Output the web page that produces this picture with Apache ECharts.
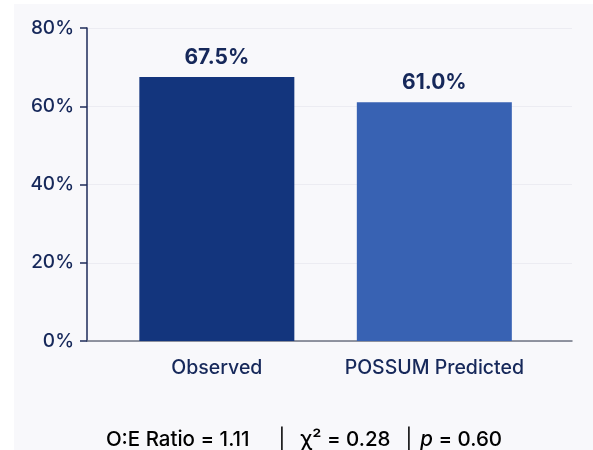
<!DOCTYPE html>
<html>
<head>
<meta charset="utf-8">
<style>
  html, body { margin: 0; padding: 0; background: #ffffff; }
  #chart { width: 593px; height: 450px; }
</style>
<script src="https://cdn.jsdelivr.net/npm/echarts@6/dist/echarts.min.js"></script>
</head>
<body>
<div id="chart"></div>
<script>
// Observed vs POSSUM-predicted rate
const categories = ['Observed', 'POSSUM Predicted'];
const rates = [67.5, 61.0];
const slots = [1, 2];
const barColors = ['#13357d', '#3862b3'];
const yMax = 80;
const yStep = 20;
const oeRatio = '1.11';
const chiSquare = '0.28';
const pValue = '0.60';

const navy = '#16285a';
const font = 'Inter, "Noto Sans", sans-serif';

const chart = echarts.init(document.getElementById('chart'), null, { renderer: 'canvas' });

chart.setOption({
  backgroundColor: '#ffffff',
  animation: false,
  textStyle: { fontFamily: font },
  graphic: [
    {
      type: 'rect',
      z: -10,
      shape: { x: 14, y: 4, width: 579, height: 446 },
      style: { fill: '#f8f8fb' },
      silent: true
    },
    {
      type: 'text',
      x: 304,
      y: 440,
      style: {
        text: '{t|O:E Ratio = ' + oeRatio + '}{s1||}{t|χ² = ' + chiSquare + '}{s2||}{i|p}{t| = ' + pValue + '}',
        align: 'center',
        verticalAlign: 'middle',
        rich: {
          t: { fontSize: 20.5, fontWeight: 500, fontFamily: font, color: navy },
          i: { fontSize: 20.5, fontWeight: 500, fontFamily: font, fontStyle: 'italic', color: navy },
          s1: { fontSize: 20.5, fontFamily: font, color: '#4a5578', padding: [0, 15, 0, 29] },
          s2: { fontSize: 20.5, fontFamily: font, color: '#4a5578', padding: [0, 8, 0, 15] }
        }
      }
    }
  ],
  grid: { left: 87, right: 21, top: 28, bottom: 109 },
  xAxis: {
    type: 'value',
    min: 0.403,
    max: 2.633,
    axisLine: { show: true, lineStyle: { color: '#6e7383', width: 1.5 } },
    axisTick: { show: false },
    splitLine: { show: false },
    axisLabel: {
      customValues: slots,
      formatter: v => categories[slots.indexOf(v)] || '',
      margin: 17,
      fontSize: 19.5,
      fontWeight: 500,
      color: navy,
      fontFamily: font
    }
  },
  yAxis: {
    type: 'value',
    min: 0,
    max: yMax,
    interval: yStep,
    axisLine: { show: true, lineStyle: { color: '#1e2b5a', width: 1.5 } },
    axisTick: { show: true, length: 7, lineStyle: { color: '#1e2b5a', width: 1.5 } },
    splitLine: { show: true, lineStyle: { color: '#ececf2', width: 1 } },
    axisLabel: {
      formatter: '{value}%',
      margin: 13,
      fontSize: 19,
      fontWeight: 500,
      color: navy,
      fontFamily: font
    }
  },
  series: [
    {
      type: 'bar',
      barWidth: 155,
      data: categories.map((c, i) => ({
        name: c,
        value: [slots[i], rates[i]],
        itemStyle: { color: barColors[i] }
      })),
      label: {
        show: true,
        position: 'top',
        distance: 9,
        formatter: p => p.value[1].toFixed(1) + '%',
        fontSize: 21,
        fontWeight: 'bold',
        color: navy,
        fontFamily: font
      }
    }
  ]
});
</script>
</body>
</html>
